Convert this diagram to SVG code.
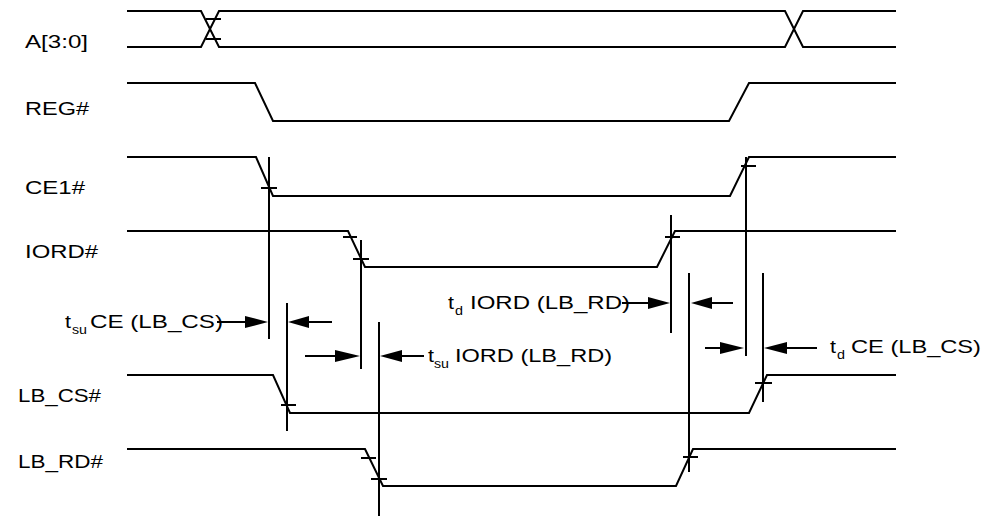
<svg xmlns="http://www.w3.org/2000/svg" width="986" height="517" viewBox="0 0 986 517">
<style>
.w{fill:none;stroke:#000;stroke-width:2}
.m{fill:none;stroke:#000;stroke-width:2}
.t{font-family:"Liberation Sans",Arial,sans-serif;font-size:18px;fill:#000}
.s{font-family:"Liberation Sans",Arial,sans-serif;font-size:12px;fill:#000}
.h{fill:#000;stroke:none}
</style>
<rect width="986" height="517" fill="#fff"/>
<g id="sig-a">
<text class="t" x="25" y="48" textLength="63" lengthAdjust="spacingAndGlyphs">A[3:0]</text>
<path class="w" d="M127,11 H201 L219,47 H785 L803,11 H896"/>
<path class="w" d="M127,47 H201 L219,11 H785 L803,47 H896"/>
<path class="m" d="M206,19 H221 M206,39 H221"/>
</g>
<g id="sig-reg">
<text class="t" x="25" y="115" textLength="64" lengthAdjust="spacingAndGlyphs">REG#</text>
<path class="w" d="M127,83 H255 L273,121 H729 L749,83 H896"/>
</g>
<g id="sig-ce1">
<text class="t" x="25" y="194" textLength="60" lengthAdjust="spacingAndGlyphs">CE1#</text>
<path class="w" d="M127,157 H256 L273,196 H730 L749,157 H896"/>
<path class="m" d="M261,188 H277 M741,166 H756"/>
</g>
<g id="sig-iord">
<text class="t" x="25" y="258" textLength="73" lengthAdjust="spacingAndGlyphs">IORD#</text>
<path class="w" d="M127,231 H348 L365,267 H657 L675,231 H896"/>
<path class="m" d="M343,237 H357 M353,259 H369 M665,237 H680"/>
</g>
<g id="sig-lbcs">
<text class="t" x="18" y="402" textLength="83" lengthAdjust="spacingAndGlyphs">LB_CS#</text>
<path class="w" d="M127,375 H273 L290,413 H749 L767,375 H896"/>
<path class="m" d="M281,405 H296 M755,383 H772"/>
</g>
<g id="sig-lbrd">
<text class="t" x="18" y="468" textLength="85" lengthAdjust="spacingAndGlyphs">LB_RD#</text>
<path class="w" d="M127,449 H365 L383,486 H676 L693,449 H896"/>
<path class="m" d="M361,458 H376 M371,479 H387 M683,457 H698"/>
</g>
<g id="connectors">
<path class="m" d="M269,157 V339 M746,157 V356 M361,240 V369 M671,215 V333 M287,303 V431 M763,273 V402 M379,322 V516 M689,273 V472"/>
<path class="m" d="M217,322 H246 M309,322 H332 M305,356 H336 M402,356 H424 M622,303 H649 M712,303 H733 M705,348 H721 M787,348 H817"/>
<polygon class="h" points="245,316 268,322 245,328"/>
<polygon class="h" points="288,322 309,316 309,328"/>
<polygon class="h" points="335,350 360,356 335,362"/>
<polygon class="h" points="380,356 402,350 402,362"/>
<polygon class="h" points="648,297 670,303 648,309"/>
<polygon class="h" points="691,303 712,297 712,309"/>
<polygon class="h" points="720,342 744,348 720,354"/>
<polygon class="h" points="764,348 787,342 787,354"/>
</g>
<g id="labels">
<text class="t" x="65" y="328" textLength="6" lengthAdjust="spacingAndGlyphs">t</text>
<text class="s" x="72" y="334" textLength="15" lengthAdjust="spacingAndGlyphs">su</text>
<text class="t" x="90" y="328" textLength="133" lengthAdjust="spacingAndGlyphs">CE (LB_CS)</text>
<text class="t" x="428" y="362" textLength="6" lengthAdjust="spacingAndGlyphs">t</text>
<text class="s" x="434" y="368" textLength="15" lengthAdjust="spacingAndGlyphs">su</text>
<text class="t" x="455" y="362" textLength="157" lengthAdjust="spacingAndGlyphs">IORD (LB_RD)</text>
<text class="t" x="448" y="309" textLength="6" lengthAdjust="spacingAndGlyphs">t</text>
<text class="s" x="455" y="315" textLength="8" lengthAdjust="spacingAndGlyphs">d</text>
<text class="t" x="470" y="309" textLength="160" lengthAdjust="spacingAndGlyphs">IORD (LB_RD)</text>
<text class="t" x="830" y="353" textLength="6" lengthAdjust="spacingAndGlyphs">t</text>
<text class="s" x="837" y="359" textLength="8" lengthAdjust="spacingAndGlyphs">d</text>
<text class="t" x="851" y="353" textLength="130" lengthAdjust="spacingAndGlyphs">CE (LB_CS)</text>
</g>
</svg>
